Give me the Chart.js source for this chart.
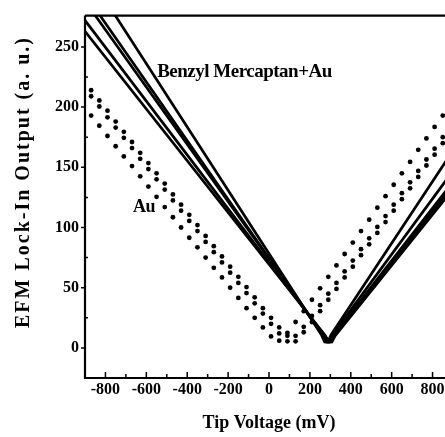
<!DOCTYPE html>
<html>
<head>
<meta charset="utf-8">
<script src="https://cdn.jsdelivr.net/npm/chart.js@4.4.1/dist/chart.umd.min.js"></script>
<style>
  html, body { margin: 0; padding: 0; background: #fff; overflow: hidden; }
</style>
</head>
<body>
<canvas id="chartEfm" width="460" height="437"></canvas>
<script>
// ── Ejes ──
const xTicks      = [-800, -600, -400, -200, 0, 200, 400, 600, 800];
const xMinorTicks = [-700, -500, -300, -100, 100, 300, 500, 700];
const yTicks      = [0, 50, 100, 150, 200, 250];
const yMinorTicks = [25, 75, 125, 175, 225];

// ── Au: tres barridos (dos casi iguales + uno desplazado) ──
const auVolts = [-870, -830, -790, -750, -710, -670, -630, -590, -550, -510, -470, -430, -390, -350, -310,
                 -270, -230, -190, -150, -110, -70, -30, 10, 50, 90, 130, 170, 210, 250, 290,
                 330, 370, 410, 450, 490, 530, 570, 610, 650, 690, 730, 770, 810, 850];
const auSweepA1 = [214, 205.5, 197, 188, 179.5, 171, 162, 153.5, 145, 136.5, 127.5, 119, 110.5, 102, 93,
                   84.5, 76, 67.5, 59, 50.5, 42, 33, 25, 17, 10, 10, 17.5, 26.5, 35.5, 45,
                   54, 63.5, 72.5, 82, 91, 100.5, 109.5, 119, 128.5, 137.5, 147, 156.5, 165.5, 175];
const auSweepA2 = [209, 200.5, 191.5, 183, 174.5, 166, 157, 148.5, 140, 131.5, 122.5, 114, 105.5, 97, 88,
                   79.5, 71, 62.5, 54, 45.5, 37, 28.5, 20, 12, 5.5, 5.5, 13, 21.5, 30.5, 40,
                   49, 58.5, 67.5, 77, 86, 95.5, 104.5, 114, 123.5, 132.5, 142, 151.5, 160.5, 170];
const auSweepB  = [193, 184.5, 176, 167.5, 159, 151, 142.5, 134, 125.5, 117, 108.5, 100, 91.5, 83.5, 75,
                   66.5, 58.5, 50, 41.5, 33, 25, 17, 9.5, 6, 12.5, 21.5, 30.5, 40, 49.5, 59,
                   68.5, 78, 87.5, 97, 106.5, 116.5, 126, 135.5, 145, 154.5, 164.5, 174, 183.5, 193];

// ── Benzyl Mercaptan+Au: cinco barridos (mV, salida) ──
const bmLine1 = [[-900, 315], [256, 11], [272, 5], [288, 5], [304, 11], [900, 164]];
const bmLine2 = [[-900, 294], [261, 11], [277, 5], [293, 5], [309, 10.5], [900, 147]];
const bmLine3 = [[-900, 288], [266, 10.7], [282, 5], [298, 5], [314, 10.2], [900, 138]];
const bmLine4 = [[-900, 272], [271, 10.4], [287, 5], [303, 5], [319, 10.2], [900, 135]];
const bmLine5 = [[-900, 263], [276, 10.2], [292, 5], [308, 5], [324, 10.1], [900, 132]];

const SERIF = '"Liberation Serif", "Times New Roman", serif';

function _pts(xs, ys) { return xs.map((v, i) => ({ x: v, y: ys[i] })); }
function _pairs(arr) { return arr.map(p => ({ x: p[0], y: p[1] })); }

function _lineSet(arr) {
    return { data: _pairs(arr), showLine: true, borderColor: '#000', borderWidth: 2.7,
             pointRadius: 0, tension: 0, fill: false };
}
function _dotSet(ys) {
    return { data: _pts(auVolts, ys), showLine: false, pointRadius: 2.4, pointBorderWidth: 0,
             backgroundColor: '#000', pointStyle: 'circle' };
}

// ── Marco, marcas y textos ──
const marcoPlugin = {
    id: 'marco',
    afterDraw(chart) {
        const { ctx, chartArea: a, scales: { x, y } } = chart;
        ctx.save();
        ctx.strokeStyle = '#000';
        ctx.lineWidth = 2.2;
        ctx.beginPath();
        ctx.moveTo(a.left, a.top); ctx.lineTo(a.right, a.top);
        ctx.moveTo(a.left, a.top); ctx.lineTo(a.left, a.bottom); ctx.lineTo(a.right, a.bottom);
        ctx.stroke();

        ctx.lineWidth = 1.5;
        ctx.beginPath();
        xTicks.forEach(v => { const p = x.getPixelForValue(v); ctx.moveTo(p, a.bottom); ctx.lineTo(p, a.bottom - 6); });
        xMinorTicks.forEach(v => { const p = x.getPixelForValue(v); ctx.moveTo(p, a.bottom); ctx.lineTo(p, a.bottom - 4); });
        yTicks.forEach(v => { const p = y.getPixelForValue(v); ctx.moveTo(a.left, p); ctx.lineTo(a.left - 4, p); });
        yMinorTicks.forEach(v => { const p = y.getPixelForValue(v); ctx.moveTo(a.left, p); ctx.lineTo(a.left + 3, p); });
        ctx.stroke();

        ctx.fillStyle = '#000';
        ctx.textBaseline = 'middle';

        // título eje Y
        ctx.save();
        ctx.translate(24, 182);
        ctx.rotate(-Math.PI / 2);
        ctx.font = 'bold 20px ' + SERIF;
        ctx.letterSpacing = '2px';
        ctx.textAlign = 'center';
        ctx.fillText('EFM Lock-In Output (a. u.)', 0, 0);
        ctx.restore();

        // etiquetas dentro de la gráfica
        ctx.letterSpacing = '-0.5px';
        ctx.textAlign = 'left';
        ctx.font = 'bold 19px ' + SERIF;
        ctx.fillText('Benzyl Mercaptan+Au', x.getPixelForValue(-547), y.getPixelForValue(229));
        ctx.font = 'bold 18px ' + SERIF;
        ctx.fillText('Au', x.getPixelForValue(-665), y.getPixelForValue(117));
        ctx.restore();
    }
};

new Chart(document.getElementById('chartEfm'), {
    type: 'scatter',
    data: {
        datasets: [
            _lineSet(bmLine1), _lineSet(bmLine2), _lineSet(bmLine3), _lineSet(bmLine4), _lineSet(bmLine5),
            _dotSet(auSweepA1), _dotSet(auSweepA2), _dotSet(auSweepB)
        ]
    },
    options: {
        responsive: false,
        animation: false,
        layout: { padding: { top: 11, right: 7, left: 0, bottom: 0 } },
        plugins: { legend: { display: false }, tooltip: { enabled: false } },
        scales: {
            x: {
                type: 'linear', min: -900, max: 900,
                grid: { display: false, drawTicks: false },
                border: { display: false },
                afterBuildTicks: s => { s.ticks = xTicks.map(v => ({ value: v })); },
                afterFit: s => { s.height = 59; },
                ticks: { color: '#000', padding: 2, maxRotation: 0, autoSkip: false,
                         font: { family: SERIF, size: 16, weight: 'bold' } },
                title: { display: true, text: 'Tip Voltage (mV)', color: '#000',
                         padding: { top: 0, bottom: 3 },
                         font: { family: SERIF, size: 18, weight: 'bold' } }
            },
            y: {
                type: 'linear', min: -25, max: 276,
                grid: { display: false, drawTicks: false },
                border: { display: false },
                afterBuildTicks: s => { s.ticks = yTicks.map(v => ({ value: v })); },
                afterFit: s => { s.width = 85; },
                ticks: { color: '#000', padding: 6, autoSkip: false,
                         font: { family: SERIF, size: 16, weight: 'bold' } }
            }
        }
    },
    plugins: [marcoPlugin]
});
</script>
</body>
</html>
